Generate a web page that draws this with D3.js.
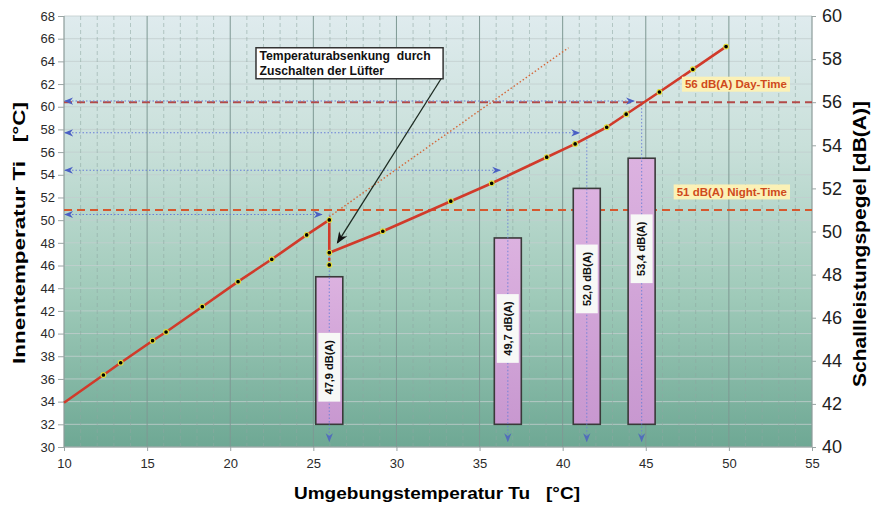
<!DOCTYPE html>
<html><head><meta charset="utf-8">
<script src="https://cdn.jsdelivr.net/npm/d3@7"></script>
<style>
body{margin:0;background:#fff}
svg{display:block}
text{font-family:"Liberation Sans",Arial,Helvetica,sans-serif}
</style>
</head><body>
<svg id="c" width="886" height="506"></svg>
<script>
// ---------- data ----------
const curveTu = [10, 12.37, 13.41, 15.33, 16.14, 18.32, 20.47, 22.5, 24.6, 25.96, 25.96, 29.18, 33.27, 35.73, 39.04, 40.75, 42.65, 43.82, 45.82, 47.83, 49.83];
const curveTi = [33.9, 36.35, 37.43, 39.37, 40.14, 42.37, 44.58, 46.55, 48.7, 50.02, 47.13, 49.02, 51.67, 53.25, 55.55, 56.72, 58.19, 59.34, 61.3, 63.3, 65.3];
const dropTu = 25.96;
const dropTi = [47.13, 46.05];
const extTu = [25.96, 40.35];
const extTi = [50.3, 65.2];
const barTu = [25.96, 36.7, 41.45, 44.75];
const barDb = [47.9, 49.7, 52.0, 53.4];
const barLabels = ["47,9 dB(A)", "49,7 dB(A)", "52,0 dB(A)", "53,4 dB(A)"];
const barBaseTi = 32;
const readTi = [50.5, 54.4, 57.7, 60.5];
const limitDb = [56, 51];
const limitLabels = ["56 dB(A) Day-Time", "51 dB(A) Night-Time"];
const xTicks = [10, 15, 20, 25, 30, 35, 40, 45, 50, 55];
const yLeftTicks = [30, 32, 34, 36, 38, 40, 42, 44, 46, 48, 50, 52, 54, 56, 58, 60, 62, 64, 66, 68];
const yRightTicks = [40, 42, 44, 46, 48, 50, 52, 54, 56, 58, 60];
const annotLines = ["Temperaturabsenkung  durch", "Zuschalten der Lüfter"];
const xTitle = "Umgebungstemperatur Tu   [°C]";
const yLeftTitle = "Innentemperatur Ti   [°C]";
const yRightTitle = "Schallleistungspegel [dB(A)]";

// ---------- layout ----------
const L = 64, R = 812, T = 16, B = 447;
const x = d3.scaleLinear([10, 55], [L, R]);
const yL = d3.scaleLinear([30, 68], [B, T]);
const yR = d3.scaleLinear([40, 60], [B, T]);

const svg = d3.select("#c");
const defs = svg.append("defs");
const grad = defs.append("linearGradient").attr("id", "bg").attr("x1", 0).attr("y1", 0).attr("x2", 0).attr("y2", 1);
[["0%", "#dfebee"], ["30%", "#c9e0da"], ["65%", "#9fcab9"], ["100%", "#6ea894"]].forEach(s =>
  grad.append("stop").attr("offset", s[0]).attr("stop-color", s[1]));
const bgrad = defs.append("linearGradient").attr("id", "barg").attr("x1", 0).attr("y1", 0).attr("x2", 0).attr("y2", 1);
[["0%", "#dcb2e0"], ["100%", "#c898d0"]].forEach(s =>
  bgrad.append("stop").attr("offset", s[0]).attr("stop-color", s[1]));

function marker(id, color, size) {
  defs.append("marker").attr("id", id).attr("viewBox", "0 0 10 10")
    .attr("refX", 9).attr("refY", 5).attr("markerWidth", size).attr("markerHeight", size)
    .attr("markerUnits", "userSpaceOnUse").attr("orient", "auto-start-reverse")
    .append("path").attr("d", "M0,1L10,5L0,9L3,5z").attr("fill", color);
}
marker("ab", "#4a5fc4", 9);
marker("ak", "#111", 12);

// background
svg.append("rect").attr("x", L).attr("y", T).attr("width", R - L).attr("height", B - T).attr("fill", "url(#bg)");

// grid
const g = svg.append("g");
g.selectAll(".hg").data(yLeftTicks).join("line")
  .attr("x1", L).attr("x2", R).attr("y1", d => yL(d)).attr("y2", d => yL(d))
  .attr("stroke", "#c3cfcf").attr("stroke-width", 1).attr("opacity", 0.8);
const minor = d3.range(11, 55, 1).filter(v => v % 5 !== 0);
g.selectAll(".vm").data(minor).join("line")
  .attr("x1", d => x(d)).attr("x2", d => x(d)).attr("y1", T).attr("y2", B)
  .attr("stroke", "#8ea8a2").attr("stroke-width", 0.8).attr("stroke-dasharray", "4,3").attr("opacity", 0.7);
g.selectAll(".vM").data(xTicks.slice(1, -1)).join("line")
  .attr("x1", d => x(d)).attr("x2", d => x(d)).attr("y1", T).attr("y2", B)
  .attr("stroke", "#7e9893").attr("stroke-width", 1);

// frame
svg.append("path").attr("d", `M${L},${T}V${B}H${R}V${T}`).attr("fill", "none").attr("stroke", "#8d9c9a").attr("stroke-width", 1.2);

// axes
const axL = svg.append("g").attr("transform", `translate(${L},0)`)
  .call(d3.axisLeft(yL).tickValues(yLeftTicks).tickSize(6).tickPadding(3).tickFormat(d3.format("d")));
const axR = svg.append("g").attr("transform", `translate(${R},0)`)
  .call(d3.axisRight(yR).tickValues(yRightTicks).tickSize(4).tickPadding(6).tickFormat(d3.format("d")));
const axB = svg.append("g").attr("transform", `translate(0,${B})`)
  .call(d3.axisBottom(x).tickValues(xTicks).tickSize(4).tickPadding(8).tickFormat(d3.format("d")));
[axL, axR, axB].forEach(a => {
  a.select(".domain").remove();
  a.selectAll(".tick line").attr("stroke", "#9aa5a4");
  a.selectAll("text").attr("fill", "#2a2a2a").style("font-family", '"Liberation Sans",Arial,sans-serif');
});
axL.selectAll("text").style("font-size", "13px");
axB.selectAll("text").style("font-size", "13px");
axR.selectAll("text").style("font-size", "18px").attr("fill", "#222");

// titles
svg.append("text").attr("transform", `translate(25,${233}) rotate(-90)`).attr("text-anchor", "middle")
  .style("font-size", "17px").style("font-weight", "bold").style("white-space", "pre")
  .attr("textLength", 262).attr("lengthAdjust", "spacingAndGlyphs").text(yLeftTitle);
svg.append("text").attr("transform", `translate(866,${244}) rotate(-90)`).attr("text-anchor", "middle")
  .style("font-size", "18px").style("font-weight", "bold").style("white-space", "pre")
  .attr("textLength", 286).attr("lengthAdjust", "spacingAndGlyphs").text(yRightTitle);
svg.append("text").attr("x", 437).attr("y", 499).attr("text-anchor", "middle")
  .style("font-size", "17px").style("font-weight", "bold").style("white-space", "pre")
  .attr("textLength", 286).attr("lengthAdjust", "spacingAndGlyphs").text(xTitle);

// limit lines
const limColors = ["#b24a48", "#d6582e"];
svg.selectAll(".lim").data(limitDb).join("line")
  .attr("x1", L).attr("x2", R).attr("y1", d => yR(d)).attr("y2", d => yR(d))
  .attr("stroke", (d, i) => limColors[i]).attr("stroke-width", 2).attr("stroke-dasharray", "8,5");

// bars
const bw = 27;
svg.selectAll(".bar").data(barTu).join("rect")
  .attr("x", d => x(d) - bw / 2).attr("width", bw)
  .attr("y", (d, i) => yR(barDb[i])).attr("height", (d, i) => yL(barBaseTi) - yR(barDb[i]))
  .attr("fill", "url(#barg)").attr("stroke", "#3a3a3a").attr("stroke-width", 1.6);

// blue reading arrows
const bl = svg.append("g").attr("fill", "none").attr("stroke", "#6a7fd8").attr("stroke-width", 1.1).attr("stroke-dasharray", "1.5,2");
bl.selectAll(".h").data(readTi).join("line")
  .attr("x1", L + 1).attr("x2", (d, i) => x(barTu[i] - 0.45))
  .attr("y1", d => yL(d)).attr("y2", d => yL(d))
  .attr("marker-start", "url(#ab)").attr("marker-end", "url(#ab)");
bl.selectAll(".v").data(readTi).join("line")
  .attr("x1", (d, i) => x(barTu[i])).attr("x2", (d, i) => x(barTu[i]))
  .attr("y1", d => yL(d)).attr("y2", yL(30.5))
  .attr("marker-end", "url(#ab)").attr("opacity", 0.8);

// bar labels
const lab = svg.selectAll(".lab").data(barTu).join("g")
  .attr("transform", (d, i) => `translate(${x(d)},${yR(barDb[i] - 4.2)})`);
lab.append("text").attr("transform", "rotate(-90)").attr("text-anchor", "middle").attr("dy", "0.35em")
  .style("font-size", "11px").style("font-weight", "bold").attr("fill", "#111")
  .text((d, i) => barLabels[i]);
lab.each(function () {
  const t = d3.select(this).select("text").node().getBBox();
  d3.select(this).insert("rect", "text")
    .attr("x", -11).attr("width", 22)
    .attr("y", -(t.width / 2) - 7).attr("height", t.width + 14)
    .attr("fill", "#f7f8f6");
});

// extension (dotted)
svg.append("path").datum(extTu.map((d, i) => [d, extTi[i]]))
  .attr("d", d3.line().x(d => x(d[0])).y(d => yL(d[1])))
  .attr("fill", "none").attr("stroke", "#d4683a").attr("stroke-width", 1.4).attr("stroke-dasharray", "1.5,2.2");

// main curve
const pts = curveTu.map((d, i) => [d, curveTi[i]]);
svg.append("path").datum(dropTi.map(v => [dropTu, v]))
  .attr("d", d3.line().x(d => x(d[0])).y(d => yL(d[1])))
  .attr("stroke", "#d13a2a").attr("stroke-width", 2.4).attr("stroke-dasharray", "3,2");
svg.append("path").datum(pts)
  .attr("d", d3.line().x(d => x(d[0])).y(d => yL(d[1])))
  .attr("fill", "none").attr("stroke", "#d13a2a").attr("stroke-width", 2.6).attr("stroke-linejoin", "round");
const dots = pts.slice(1).concat([[dropTu, dropTi[1]]]);
svg.selectAll(".dot").data(dots).join("circle")
  .attr("cx", d => x(d[0])).attr("cy", d => yL(d[1])).attr("r", 2.4)
  .attr("fill", "#000").attr("stroke", "#e6df3a").attr("stroke-width", 1.1);

// limit badges
const badge = svg.selectAll(".bd").data(limitDb).join("g");
badge.append("text").attr("x", R - 25).attr("y", d => yR(d) - 14).attr("text-anchor", "end")
  .style("font-size", "11.5px").style("font-weight", "bold").attr("fill", "#cf4a1c")
  .text((d, i) => limitLabels[i]);
badge.each(function () {
  const t = d3.select(this).select("text").node().getBBox();
  d3.select(this).insert("rect", "text").attr("x", t.x - 3).attr("y", t.y - 1.5)
    .attr("width", t.width + 6).attr("height", t.height + 3).attr("fill", "#fbf1b6");
});

// annotation
const ag = svg.append("g").attr("transform", `translate(${x(21.55)},${yL(65.2)})`);
ag.selectAll("text").data(annotLines).join("text")
  .attr("x", 3.5).attr("y", (d, i) => 12 + i * 15.5)
  .style("font-size", "12.2px").style("font-weight", "bold").style("white-space", "pre").attr("fill", "#111")
  .text(d => d);
const ab = ag.node().getBBox();
const boxW = ab.width + 16, boxH = 31;
ag.insert("rect", "text").attr("x", 0).attr("y", 0).attr("width", boxW).attr("height", boxH)
  .attr("fill", "#fff").attr("stroke", "#333").attr("stroke-width", 1.5);
const tail = [x(21.55) + boxW - 2, yL(65.2) + boxH];
svg.append("line").attr("x1", tail[0]).attr("y1", tail[1])
  .attr("x2", x(26.45)).attr("y2", yL(48.0))
  .attr("stroke", "#1d2b22").attr("stroke-width", 1.3).attr("marker-end", "url(#ak)");
</script>
</body></html>
